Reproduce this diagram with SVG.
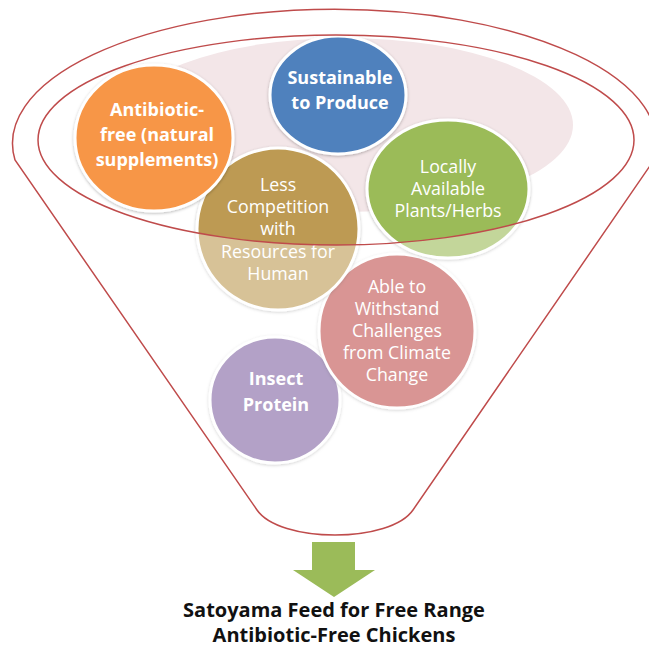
<svg xmlns="http://www.w3.org/2000/svg" width="649" height="647" viewBox="0 0 649 647">
  <style>
    .bubble { stroke: #ffffff; stroke-width: 3; filter: url(#soft); }
    .lbl { font-family: "Open Sans", "Liberation Sans", sans-serif; fill: #ffffff; text-anchor: middle; }
    .b { font-size: 18px; font-weight: bold; }
    .r { font-size: 17.8px; font-weight: normal; }
    .outline { fill: none; stroke: #bf4b4b; stroke-width: 1.5; }
    .caption { font-family: "Open Sans", "Liberation Sans", sans-serif; font-size: 20px; font-weight: bold; fill: #111111; text-anchor: middle; }
  </style>
  <defs>
    <filter id="soft" x="-20%" y="-20%" width="140%" height="140%">
      <feDropShadow dx="0" dy="1" stdDeviation="1.6" flood-color="#000000" flood-opacity="0.28"/>
    </filter>
  </defs>

  <rect width="649" height="647" fill="#ffffff"/>

  <!-- pale backdrop inside the funnel mouth -->
  <ellipse cx="345" cy="125" rx="228" ry="87" fill="#f3e6e8"/>

  <g id="insect-protein">
    <ellipse class="bubble" cx="275" cy="400" rx="65" ry="63" fill="#8064a2"/>
    <text class="lbl b" x="276" y="385">Insect</text>
    <text class="lbl b" x="276" y="411">Protein</text>
  </g>

  <g id="climate">
    <ellipse class="bubble" cx="397" cy="331" rx="78" ry="77" fill="#c0504d"/>
    <text class="lbl r" x="397" y="293">Able to</text>
    <text class="lbl r" x="397" y="315">Withstand</text>
    <text class="lbl r" x="397" y="337">Challenges</text>
    <text class="lbl r" x="397" y="359">from Climate</text>
    <text class="lbl r" x="397" y="381">Change</text>
  </g>

  <g id="local-plants">
    <ellipse class="bubble" cx="448" cy="189" rx="81" ry="69" fill="#9bbb59"/>
    <text class="lbl r" x="448" y="173">Locally</text>
    <text class="lbl r" x="448" y="195">Available</text>
    <text class="lbl r" x="448" y="217">Plants/Herbs</text>
  </g>

  <g id="less-competition">
    <ellipse class="bubble" cx="278" cy="229" rx="81" ry="81" fill="#bd9a52"/>
    <text class="lbl r" x="278" y="191">Less</text>
    <text class="lbl r" x="278" y="213">Competition</text>
    <text class="lbl r" x="278" y="235">with</text>
    <text class="lbl r" x="278" y="258">Resources for</text>
    <text class="lbl r" x="278" y="280">Human</text>
  </g>

  <g id="sustainable">
    <ellipse class="bubble" cx="338" cy="95" rx="68" ry="59" fill="#4f81bd"/>
    <text class="lbl b" x="340" y="84">Sustainable</text>
    <text class="lbl b" x="340" y="109">to Produce</text>
  </g>

  <g id="antibiotic-free">
    <ellipse class="bubble" cx="154" cy="138" rx="79" ry="73" fill="#f79646"/>
    <text class="lbl b" x="157" y="116">Antibiotic-</text>
    <text class="lbl b" x="157" y="141">free (natural</text>
    <text class="lbl b" x="157" y="166">supplements)</text>
  </g>

  <!-- funnel body: translucent white veil outside the mouth, then the outlines -->
  <g id="funnel">
    <path fill="#ffffff" fill-opacity="0.4" fill-rule="evenodd"
          d="M15,160 A322,134 0 1 1 654,160 L413,510 C402,526 370,535 335,535 C300,535 268,526 257,510 Z
             M38,140 A298,105 0 1 0 634,140 A298,105 0 1 0 38,140 Z"/>
    <path class="outline" d="M15,160 A322,134 0 1 1 654,160 L413,510 C402,526 370,535 335,535 C300,535 268,526 257,510 Z"/>
    <ellipse class="outline" cx="336" cy="140" rx="298" ry="105"/>
  </g>

  <g id="connectors">
    <path d="M312,542 H355 V570 H375 L334,597 L293,570 H312 Z" fill="#9bbb59"/>
  </g>

  <g id="result">
    <text class="caption" x="334" y="617">Satoyama Feed for Free Range</text>
    <text class="caption" x="334" y="642">Antibiotic-Free Chickens</text>
  </g>
</svg>
